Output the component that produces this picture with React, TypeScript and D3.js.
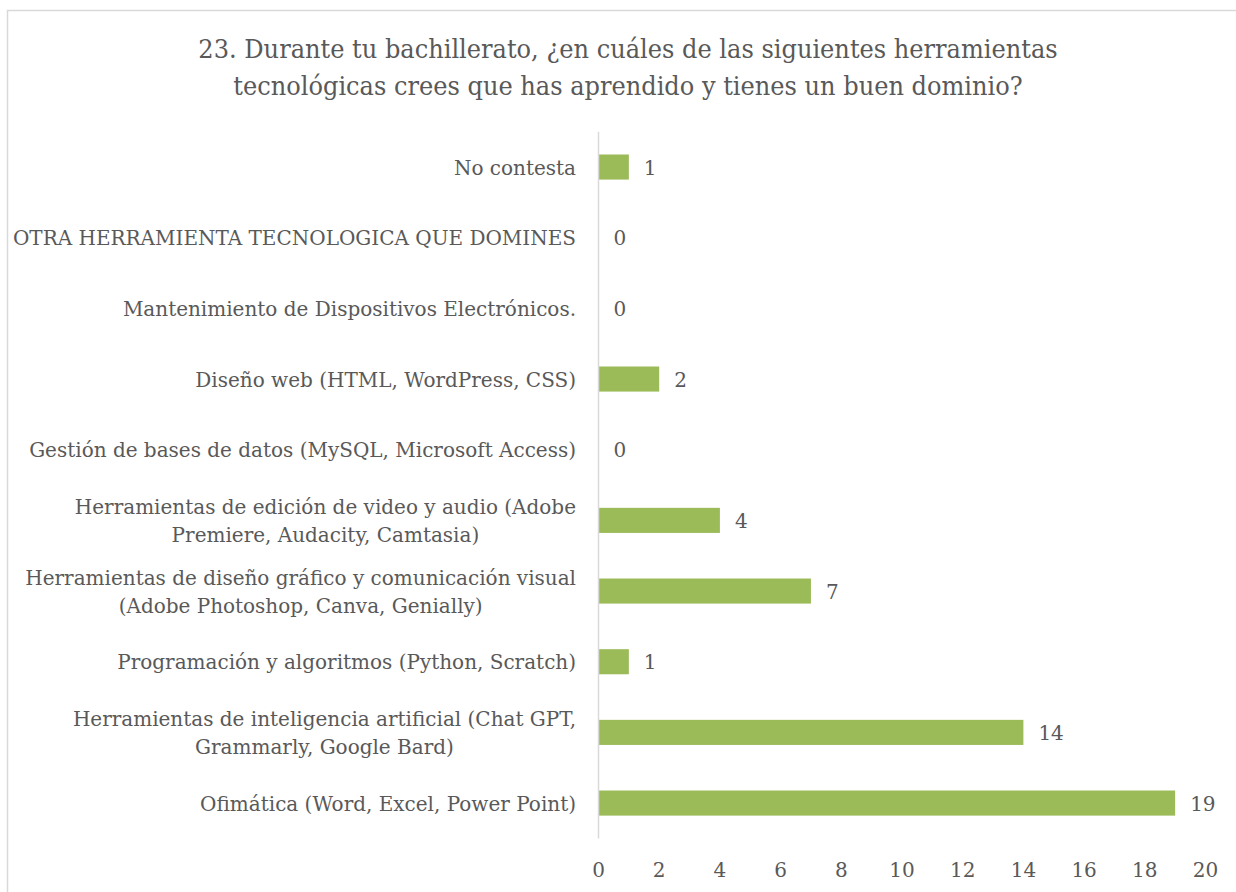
import React from "react";
import * as d3 from "d3";

const titleLines = [
  "23. Durante tu bachillerato, ¿en cuáles de las siguientes herramientas",
  "tecnológicas crees que has aprendido y tienes un buen dominio?",
];

const categories = [
  "No contesta",
  "OTRA HERRAMIENTA TECNOLOGICA QUE DOMINES",
  "Mantenimiento de Dispositivos Electrónicos.",
  "Diseño web (HTML, WordPress, CSS)",
  "Gestión de bases de datos (MySQL, Microsoft Access)",
  "Herramientas de edición de video y audio (Adobe\nPremiere, Audacity, Camtasia)",
  "Herramientas de diseño gráfico y comunicación visual\n(Adobe Photoshop, Canva, Genially)",
  "Programación y algoritmos (Python, Scratch)",
  "Herramientas de inteligencia artificial (Chat GPT,\nGrammarly, Google Bard)",
  "Ofimática (Word, Excel, Power Point)",
];

const values = [1, 0, 0, 2, 0, 4, 7, 1, 14, 19];

const xTicks = [0, 2, 4, 6, 8, 10, 12, 14, 16, 18, 20];

const FONT = "'DejaVu Serif', serif";
const TEXT = "#595959";
const BAR = "#9BBB59";
const GRID = "#D9D9D9";

const LABEL_SIZE = 21;
const LABEL_SX = 0.952;
const TITLE_SIZE = 26;
const TITLE_SX = 0.927;

function T({
  x,
  y,
  size,
  sx,
  anchor = "start",
  dy,
  children,
}: {
  x: number;
  y: number;
  size: number;
  sx: number;
  anchor?: string;
  dy?: string;
  children: React.ReactNode;
}) {
  return (
    <g transform={`translate(${x},${y}) scale(${sx},1)`}>
      <text
        x={0}
        y={0}
        dy={dy}
        textAnchor={anchor as any}
        fontFamily={FONT}
        fontSize={size}
        fill={TEXT}
      >
        {children}
      </text>
    </g>
  );
}

export default function App() {
  const W = 1236;
  const H = 892;
  const x = d3.scaleLinear().domain([0, 20]).range([598.5, 1205.5]);
  const y = d3
    .scaleBand<string>()
    .domain(categories)
    .range([131.7, 838.4])
    .paddingInner(0.645)
    .paddingOuter(0.3225);
  const bw = y.bandwidth();

  return (
    <svg
      width={W}
      height={H}
      style={{ position: "fixed", left: 0, top: 0, background: "#fff" }}
      xmlns="http://www.w3.org/2000/svg"
    >
      <rect x={0} y={0} width={W} height={H} fill="#fff" />
      <rect
        x={7.5}
        y={10.5}
        width={W + 20}
        height={H + 20}
        fill="none"
        stroke={GRID}
        strokeWidth={1.5}
      />
      {titleLines.map((t, i) => (
        <T key={i} x={628} y={58 + i * 37} size={TITLE_SIZE} sx={TITLE_SX} anchor="middle">
          {t}
        </T>
      ))}
      {categories.map((c, i) => {
        const yc = (y(c) as number) + bw / 2;
        const lines = c.split("\n");
        const v = values[i];
        return (
          <g key={c}>
            {v > 0 && (
              <rect
                x={x(0)}
                y={y(c)}
                width={x(v) - x(0)}
                height={bw}
                fill={BAR}
              />
            )}
            <T x={x(v) + 15} y={yc} dy="0.36em" size={LABEL_SIZE} sx={LABEL_SX}>
              {v}
            </T>
            <CatLabel lines={lines} yc={yc} right={576} />
          </g>
        );
      })}
      <line
        x1={x(0)}
        x2={x(0)}
        y1={y.range()[0]}
        y2={y.range()[1]}
        stroke={GRID}
        strokeWidth={1.5}
      />
      {xTicks.map((t) => (
        <T key={t} x={x(t)} y={877} size={LABEL_SIZE} sx={LABEL_SX} anchor="middle">
          {t}
        </T>
      ))}
    </svg>
  );
}

function CatLabel({
  lines,
  yc,
  right,
}: {
  lines: string[];
  yc: number;
  right: number;
}) {
  const ref = React.useRef<SVGGElement>(null);
  const [cx, setCx] = React.useState<number | null>(null);
  React.useLayoutEffect(() => {
    if (lines.length > 1 && ref.current) {
      const texts = Array.from(ref.current.querySelectorAll("text")) as SVGTextElement[];
      const maxW = (d3.max(texts, (t) => t.getComputedTextLength()) || 0) * LABEL_SX;
      setCx(right - maxW / 2);
    }
  }, [lines.join("|")]);
  const lh = 28;
  if (lines.length === 1) {
    return (
      <T x={right} y={yc} dy="0.36em" size={LABEL_SIZE} sx={LABEL_SX} anchor="end">
        {lines[0]}
      </T>
    );
  }
  return (
    <g ref={ref}>
      {lines.map((l, j) => (
        <T
          key={j}
          x={cx ?? right}
          y={yc + (j - (lines.length - 1) / 2) * lh}
          dy="0.36em"
          size={LABEL_SIZE}
          sx={LABEL_SX}
          anchor={cx === null ? "end" : "middle"}
        >
          {l}
        </T>
      ))}
    </g>
  );
}
